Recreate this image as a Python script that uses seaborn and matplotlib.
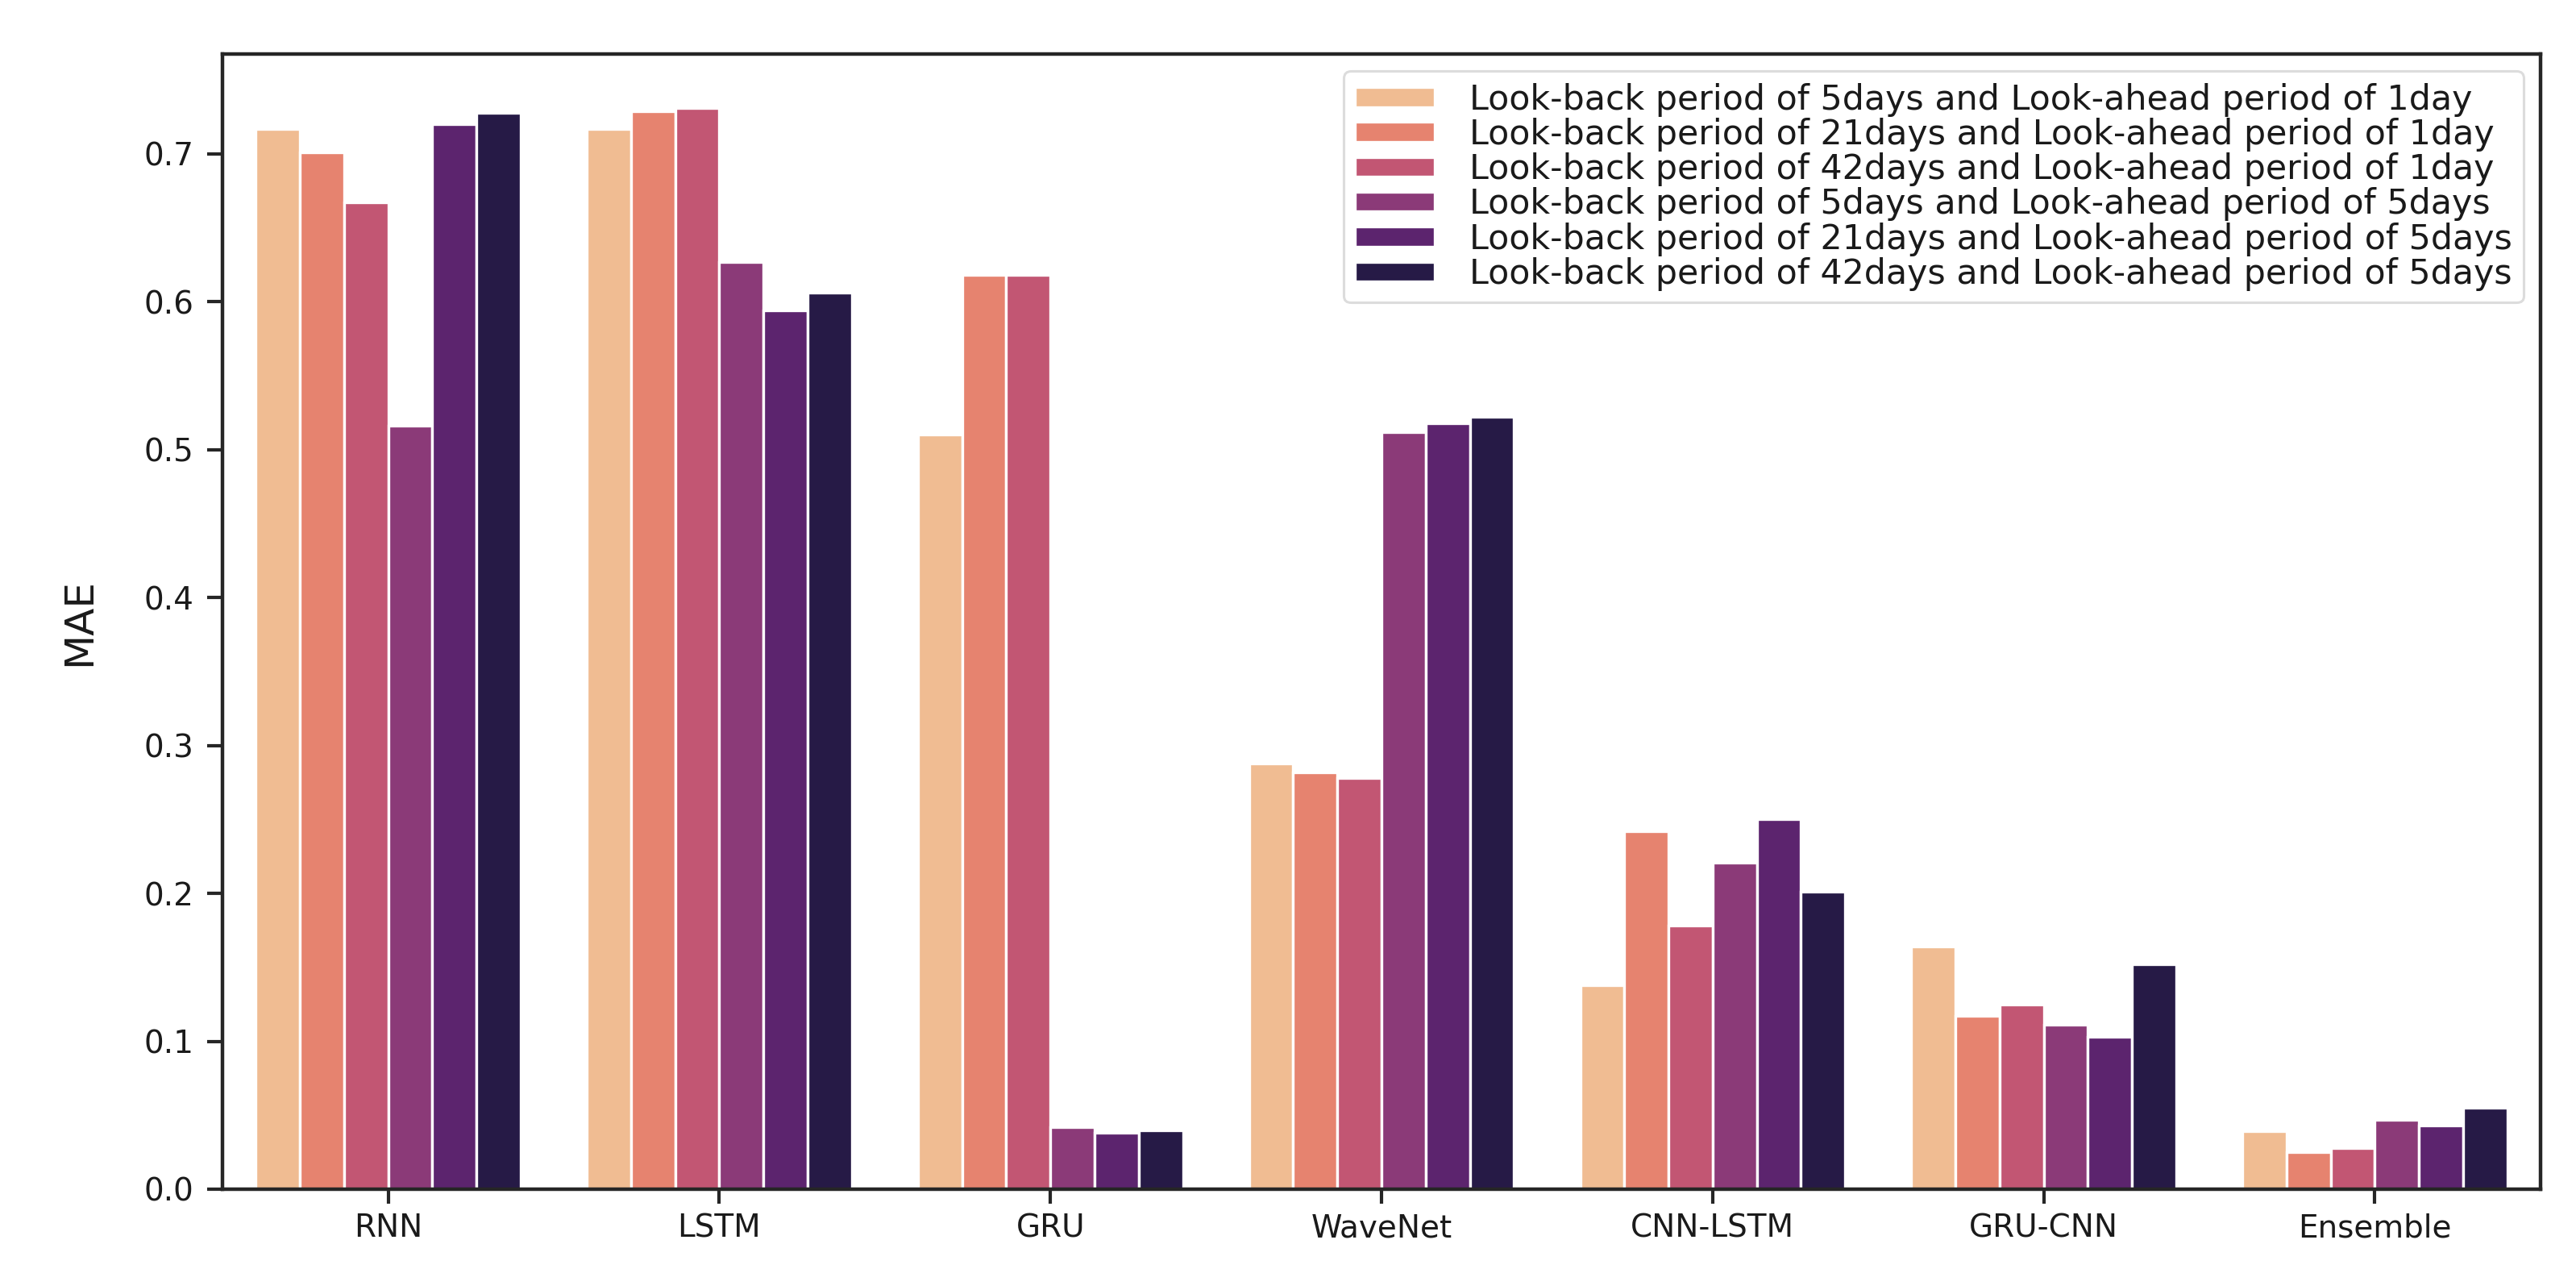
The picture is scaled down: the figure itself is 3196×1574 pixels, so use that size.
import matplotlib
matplotlib.use("Agg")
import matplotlib.pyplot as plt
import seaborn as sns
import pandas as pd

# Modelos y configuraciones de ventana
modelos = ["RNN", "LSTM", "GRU", "WaveNet", "CNN-LSTM", "GRU-CNN", "Ensemble"]
etiquetas = [
    "Look-back period of 5days and Look-ahead period of 1day",
    "Look-back period of 21days and Look-ahead period of 1day",
    "Look-back period of 42days and Look-ahead period of 1day",
    "Look-back period of 5days and Look-ahead period of 5days",
    "Look-back period of 21days and Look-ahead period of 5days",
    "Look-back period of 42days and Look-ahead period of 5days",
]

# MAE por configuracion (orden de modelos)
mae_5d_1d = [0.717, 0.717, 0.510, 0.288, 0.138, 0.164, 0.039]
mae_21d_1d = [0.701, 0.729, 0.618, 0.282, 0.242, 0.117, 0.025]
mae_42d_1d = [0.667, 0.731, 0.618, 0.278, 0.178, 0.125, 0.028]
mae_5d_5d = [0.516, 0.627, 0.042, 0.512, 0.221, 0.111, 0.047]
mae_21d_5d = [0.720, 0.594, 0.038, 0.518, 0.250, 0.103, 0.043]
mae_42d_5d = [0.728, 0.606, 0.040, 0.522, 0.201, 0.152, 0.055]

colores = ["#F0BC92", "#E6836F", "#C25673", "#8B3A78", "#5C246E", "#261A46"]

series = [mae_5d_1d, mae_21d_1d, mae_42d_1d, mae_5d_5d, mae_21d_5d, mae_42d_5d]
filas = []
for etiqueta, valores in zip(etiquetas, series):
    for modelo, v in zip(modelos, valores):
        filas.append({"Modelo": modelo, "Config": etiqueta, "MAE": v})
df = pd.DataFrame(filas)

sns.set_style("ticks")
plt.rcParams["font.family"] = ["DejaVu Sans"]

fig, ax = plt.subplots(figsize=(15.98, 7.87), dpi=200)
fig.subplots_adjust(left=0.0864, right=0.9862, top=0.9574, bottom=0.0629)

sns.barplot(data=df, x="Modelo", y="MAE", hue="Config", order=modelos,
            hue_order=etiquetas, palette=colores, saturation=1,
            edgecolor="white", linewidth=1.2, ax=ax)

# rejilla solo cada 0.2
ax.set_yticks([0.0, 0.1, 0.2, 0.3, 0.4, 0.5, 0.6, 0.7])
ax.set_yticklabels(["0.0", "0.1", "0.2", "0.3", "0.4", "0.5", "0.6", "0.7"])
ax.set_yticks([0.2, 0.4, 0.6], minor=True)
ax.yaxis.grid(True, which="minor", color="0.25", linewidth=0.7)
ax.set_axisbelow(True)

ax.set_xlabel("")
ax.set_ylabel("MAE", fontsize=18, labelpad=20, color="0.1")
ax.tick_params(axis="both", which="major", labelsize=14, width=1.5,
               color=".15", labelcolor="0.1")
ax.tick_params(axis="y", which="major", length=7, pad=6)
ax.tick_params(axis="x", which="major", length=6.5, pad=4)
ax.tick_params(axis="y", which="minor", length=0)
for s in ax.spines.values():
    s.set_linewidth(1.6)
    s.set_color(".15")

leg = ax.legend(loc="upper right", fontsize=15.4, labelspacing=0.03,
                handlelength=2.3, handleheight=0.5, handletextpad=1.0,
                borderpad=0.33, frameon=True, fancybox=True)
leg.get_frame().set_edgecolor("0.83")
leg.get_frame().set_linewidth(1.1)
for t in leg.get_texts():
    t.set_color("0.1")

plt.savefig("out.png", dpi=200)
plt.close()
